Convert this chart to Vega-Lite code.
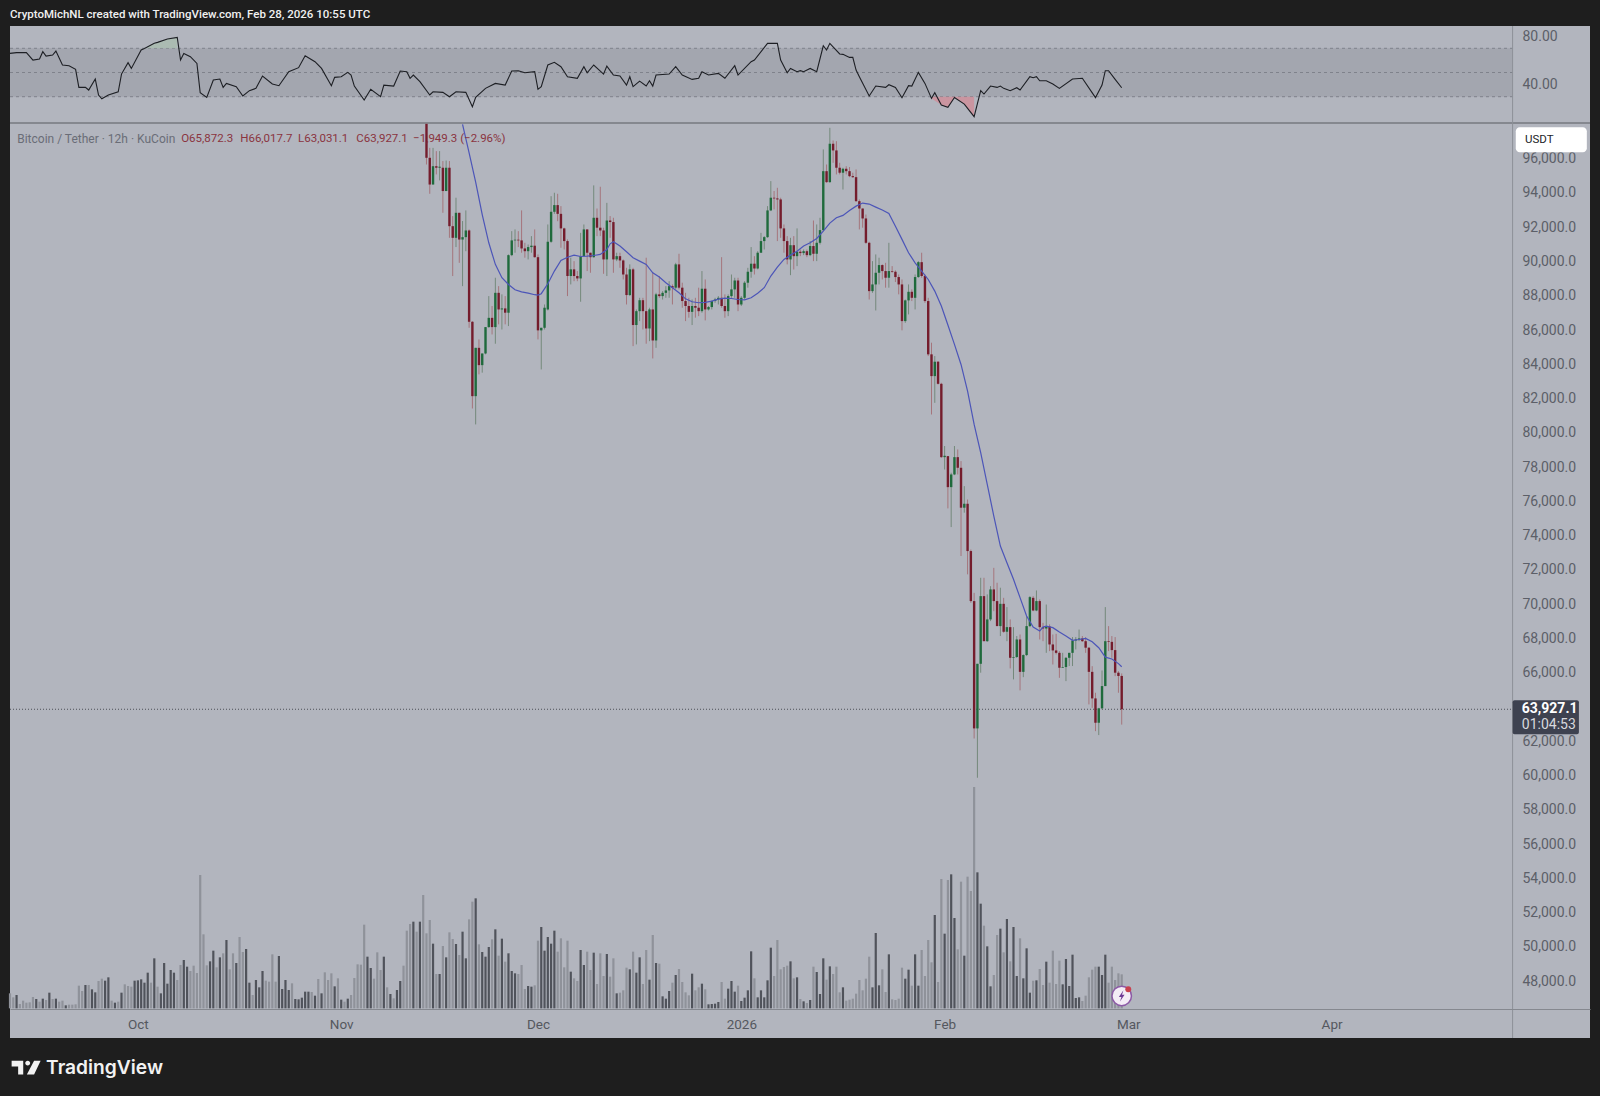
{"$schema":"https://vega.github.io/schema/vega-lite/v6.json","width":1580,"height":1012,"autosize":{"type":"none"},"padding":{"left":10,"top":26,"right":10,"bottom":58},"background":"#1e1e1e","config":{"view":{"fill":"#b2b5be","stroke":null},"text":{"font":"Roboto"},"axis":{"labelFont":"Roboto"}},
"datasets":{"bars":[
{"t":"2025-09-11T12:00Z","v":45,"up":0,"r":65.8},{"t":"2025-09-12T00:00Z","v":33,"up":0},{"t":"2025-09-12T12:00Z","v":40,"up":1,"r":66.4},{"t":"2025-09-13T00:00Z","v":13,"up":0},{"t":"2025-09-13T12:00Z","v":23,"up":0},{"t":"2025-09-14T00:00Z","v":17,"up":0,"r":66.4},{"t":"2025-09-14T12:00Z","v":18,"up":0},{"t":"2025-09-15T00:00Z","v":34,"up":0,"r":60.3},{"t":"2025-09-15T12:00Z","v":28,"up":1},{"t":"2025-09-16T00:00Z","v":20,"up":0,"r":61.1},{"t":"2025-09-16T12:00Z","v":29,"up":1,"r":67.2},{"t":"2025-09-17T00:00Z","v":25,"up":0,"r":63.6},{"t":"2025-09-17T12:00Z","v":47,"up":1},{"t":"2025-09-18T00:00Z","v":28,"up":0,"r":64.4},{"t":"2025-09-18T12:00Z","v":29,"up":1,"r":67.7},{"t":"2025-09-19T00:00Z","v":20,"up":0},{"t":"2025-09-19T12:00Z","v":23,"up":0,"r":56.2},{"t":"2025-09-20T00:00Z","v":9,"up":1},{"t":"2025-09-20T12:00Z","v":11,"up":0,"r":55.6},{"t":"2025-09-21T00:00Z","v":11,"up":0},{"t":"2025-09-21T12:00Z","v":12,"up":0,"r":52.6},{"t":"2025-09-22T00:00Z","v":68,"up":0,"r":37.7},{"t":"2025-09-22T12:00Z","v":52,"up":0},{"t":"2025-09-23T00:00Z","v":70,"up":1,"r":37.7},{"t":"2025-09-23T12:00Z","v":70,"up":0,"r":35.5},{"t":"2025-09-24T00:00Z","v":57,"up":1},{"t":"2025-09-24T12:00Z","v":48,"up":1,"r":44.6},{"t":"2025-09-25T00:00Z","v":82,"up":0,"r":31.4},{"t":"2025-09-25T12:00Z","v":89,"up":0,"r":28.3},{"t":"2025-09-26T00:00Z","v":83,"up":1},{"t":"2025-09-26T12:00Z","v":93,"up":1,"r":31.4},{"t":"2025-09-27T00:00Z","v":23,"up":0},{"t":"2025-09-27T12:00Z","v":17,"up":1},{"t":"2025-09-28T00:00Z","v":20,"up":0,"r":34.1},{"t":"2025-09-28T12:00Z","v":47,"up":1,"r":48.7},{"t":"2025-09-29T00:00Z","v":72,"up":0},{"t":"2025-09-29T12:00Z","v":67,"up":0,"r":58.1},{"t":"2025-09-30T00:00Z","v":65,"up":0,"r":53.4},{"t":"2025-09-30T12:00Z","v":83,"up":1},
{"t":"2025-10-01T00:00Z","v":84,"up":1},{"t":"2025-10-01T12:00Z","v":87,"up":1,"r":68.6},{"t":"2025-10-02T00:00Z","v":77,"up":1,"r":69.9},{"t":"2025-10-02T12:00Z","v":107,"up":1},{"t":"2025-10-03T00:00Z","v":77,"up":0},{"t":"2025-10-03T12:00Z","v":150,"up":1,"r":74.1},{"t":"2025-10-04T00:00Z","v":65,"up":0,"r":74.9},{"t":"2025-10-04T12:00Z","v":45,"up":1},{"t":"2025-10-05T00:00Z","v":136,"up":1},{"t":"2025-10-05T12:00Z","v":74,"up":1,"r":77.7},{"t":"2025-10-06T00:00Z","v":115,"up":1},{"t":"2025-10-06T12:00Z","v":107,"up":1},{"t":"2025-10-07T00:00Z","v":85,"up":0,"r":79.0},{"t":"2025-10-07T12:00Z","v":130,"up":0,"r":60.3},{"t":"2025-10-08T00:00Z","v":145,"up":1,"r":65.8},{"t":"2025-10-08T12:00Z","v":125,"up":1},{"t":"2025-10-09T00:00Z","v":112,"up":0,"r":63.1},{"t":"2025-10-09T12:00Z","v":128,"up":0},{"t":"2025-10-10T00:00Z","v":106,"up":0,"r":57.5},{"t":"2025-10-10T12:00Z","v":400,"up":0,"r":33.3},{"t":"2025-10-11T00:00Z","v":222,"up":0},{"t":"2025-10-11T12:00Z","v":129,"up":0,"r":29.4},{"t":"2025-10-12T00:00Z","v":141,"up":1},{"t":"2025-10-12T12:00Z","v":173,"up":1,"r":43.8},{"t":"2025-10-13T00:00Z","v":123,"up":0},{"t":"2025-10-13T12:00Z","v":153,"up":1,"r":44.6},{"t":"2025-10-14T00:00Z","v":165,"up":0,"r":37.7},{"t":"2025-10-14T12:00Z","v":205,"up":1,"r":41.0},{"t":"2025-10-15T00:00Z","v":117,"up":0},{"t":"2025-10-15T12:00Z","v":165,"up":0},{"t":"2025-10-16T00:00Z","v":136,"up":1,"r":38.3},{"t":"2025-10-16T12:00Z","v":214,"up":0},{"t":"2025-10-17T00:00Z","v":169,"up":0,"r":30.6},{"t":"2025-10-17T12:00Z","v":178,"up":1},{"t":"2025-10-18T00:00Z","v":77,"up":1,"r":35.0},{"t":"2025-10-18T12:00Z","v":40,"up":0},{"t":"2025-10-19T00:00Z","v":85,"up":1,"r":36.9},{"t":"2025-10-19T12:00Z","v":63,"up":1},{"t":"2025-10-20T00:00Z","v":112,"up":1,"r":47.1},{"t":"2025-10-20T12:00Z","v":83,"up":0},{"t":"2025-10-21T00:00Z","v":80,"up":0},{"t":"2025-10-21T12:00Z","v":162,"up":0,"r":40.5},{"t":"2025-10-22T00:00Z","v":80,"up":0},{"t":"2025-10-22T12:00Z","v":157,"up":1,"r":39.1},{"t":"2025-10-23T00:00Z","v":58,"up":1},{"t":"2025-10-23T12:00Z","v":85,"up":1},{"t":"2025-10-24T00:00Z","v":55,"up":1,"r":50.7},{"t":"2025-10-24T12:00Z","v":75,"up":0},{"t":"2025-10-25T00:00Z","v":28,"up":1},{"t":"2025-10-25T12:00Z","v":27,"up":1,"r":54.0},{"t":"2025-10-26T00:00Z","v":32,"up":1},{"t":"2025-10-26T12:00Z","v":50,"up":1,"r":63.9},{"t":"2025-10-27T00:00Z","v":50,"up":1},{"t":"2025-10-27T12:00Z","v":49,"up":0},{"t":"2025-10-28T00:00Z","v":38,"up":1,"r":58.9},{"t":"2025-10-28T12:00Z","v":88,"up":0},{"t":"2025-10-29T00:00Z","v":45,"up":1,"r":53.4},{"t":"2025-10-29T12:00Z","v":108,"up":0},{"t":"2025-10-30T00:00Z","v":85,"up":0,"r":43.8},{"t":"2025-10-30T12:00Z","v":105,"up":0,"r":39.1},{"t":"2025-10-31T00:00Z","v":66,"up":1,"r":46.0},{"t":"2025-10-31T12:00Z","v":90,"up":0},
{"t":"2025-11-01T00:00Z","v":26,"up":1,"r":46.5},{"t":"2025-11-01T12:00Z","v":20,"up":0},{"t":"2025-11-02T00:00Z","v":29,"up":1,"r":50.1},{"t":"2025-11-02T12:00Z","v":40,"up":0,"r":47.9},{"t":"2025-11-03T00:00Z","v":91,"up":0,"r":38.8},{"t":"2025-11-03T12:00Z","v":132,"up":0},{"t":"2025-11-04T00:00Z","v":131,"up":0},{"t":"2025-11-04T12:00Z","v":251,"up":0,"r":27.2},{"t":"2025-11-05T00:00Z","v":155,"up":1},{"t":"2025-11-05T12:00Z","v":121,"up":1,"r":36.1},{"t":"2025-11-06T00:00Z","v":89,"up":0},{"t":"2025-11-06T12:00Z","v":168,"up":0},{"t":"2025-11-07T00:00Z","v":115,"up":0,"r":30.0},{"t":"2025-11-07T12:00Z","v":155,"up":1,"r":39.6},{"t":"2025-11-08T00:00Z","v":63,"up":0},{"t":"2025-11-08T12:00Z","v":43,"up":1},{"t":"2025-11-09T00:00Z","v":30,"up":0,"r":38.8},{"t":"2025-11-09T12:00Z","v":55,"up":1},{"t":"2025-11-10T00:00Z","v":82,"up":1,"r":51.2},{"t":"2025-11-10T12:00Z","v":128,"up":0},{"t":"2025-11-11T00:00Z","v":233,"up":0,"r":50.7},{"t":"2025-11-11T12:00Z","v":253,"up":0,"r":45.2},{"t":"2025-11-12T00:00Z","v":260,"up":1,"r":47.9},{"t":"2025-11-12T12:00Z","v":230,"up":0},{"t":"2025-11-13T00:00Z","v":260,"up":1,"r":42.4},{"t":"2025-11-13T12:00Z","v":340,"up":0},
{"t":"2025-11-14T00:00Z","v":225,"up":0,"o":98090,"h":98100,"l":95720,"c":96110},{"t":"2025-11-14T12:00Z","v":265,"up":0,"o":96110,"h":96690,"l":94010,"c":94550,"r":31.4},{"t":"2025-11-15T00:00Z","v":194,"up":1,"o":94550,"h":96690,"l":94550,"c":95620,"r":34.1},{"t":"2025-11-15T12:00Z","v":103,"up":0,"o":95620,"h":96500,"l":95140,"c":95530},{"t":"2025-11-16T00:00Z","v":103,"up":1,"o":95530,"h":96500,"l":94790,"c":95590},{"t":"2025-11-16T12:00Z","v":187,"up":0,"o":95530,"h":95920,"l":92900,"c":94170,"r":33.6},{"t":"2025-11-17T00:00Z","v":153,"up":1,"o":94170,"h":95950,"l":94170,"c":95530},{"t":"2025-11-17T12:00Z","v":228,"up":0,"o":95530,"h":95920,"l":91440,"c":92120,"r":30.0},{"t":"2025-11-18T00:00Z","v":208,"up":0,"o":92120,"h":92710,"l":89210,"c":91440},{"t":"2025-11-18T12:00Z","v":193,"up":1,"o":91440,"h":93780,"l":90900,"c":92900,"r":34.1},{"t":"2025-11-19T00:00Z","v":160,"up":0,"o":92900,"h":92900,"l":89980,"c":91340},{"t":"2025-11-19T12:00Z","v":230,"up":1,"o":91340,"h":92420,"l":88620,"c":91480,"m":98055},{"t":"2025-11-20T00:00Z","v":150,"up":1,"o":91480,"h":93040,"l":90660,"c":91870,"r":33.6},{"t":"2025-11-20T12:00Z","v":267,"up":0,"o":91870,"h":91930,"l":86190,"c":86540,"m":96400},{"t":"2025-11-21T00:00Z","v":320,"up":0,"o":86540,"h":86580,"l":81480,"c":82200,"r":21.7},{"t":"2025-11-21T12:00Z","v":330,"up":1,"o":82200,"h":85020,"l":80550,"c":85020,"r":29.4,"m":94690},{"t":"2025-11-22T00:00Z","v":192,"up":0,"o":85020,"h":85510,"l":83470,"c":84010},{"t":"2025-11-22T12:00Z","v":169,"up":1,"o":84010,"h":84690,"l":83570,"c":84690,"m":92800},{"t":"2025-11-23T00:00Z","v":155,"up":1,"o":84690,"h":86230,"l":84640,"c":86230,"r":36.9},{"t":"2025-11-23T12:00Z","v":184,"up":1,"o":86230,"h":88040,"l":86190,"c":86770,"m":91150},{"t":"2025-11-24T00:00Z","v":207,"up":0,"o":86770,"h":87460,"l":85800,"c":86230},{"t":"2025-11-24T12:00Z","v":237,"up":1,"o":86230,"h":89110,"l":85260,"c":88230,"r":41.0,"m":89890},{"t":"2025-11-25T00:00Z","v":158,"up":0,"o":88230,"h":88620,"l":86390,"c":87260},{"t":"2025-11-25T12:00Z","v":209,"up":1,"o":87260,"h":88140,"l":86090,"c":87320,"m":89110},{"t":"2025-11-26T00:00Z","v":140,"up":0,"o":87320,"h":88040,"l":86390,"c":87070,"r":39.6},{"t":"2025-11-26T12:00Z","v":165,"up":1,"o":87070,"h":90470,"l":86290,"c":90430,"m":88720},{"t":"2025-11-27T00:00Z","v":112,"up":1,"o":90430,"h":91830,"l":90370,"c":91290,"r":51.2},{"t":"2025-11-27T12:00Z","v":105,"up":1,"o":91290,"h":91930,"l":90570,"c":91330,"m":88410},{"t":"2025-11-28T00:00Z","v":103,"up":0,"o":91330,"h":91830,"l":90900,"c":91290,"r":51.5},{"t":"2025-11-28T12:00Z","v":130,"up":0,"o":91290,"h":93040,"l":90570,"c":90820,"m":88290},{"t":"2025-11-29T00:00Z","v":58,"up":0,"o":90820,"h":91150,"l":90280,"c":90660,"r":49.8},{"t":"2025-11-29T12:00Z","v":67,"up":1,"o":90660,"h":91050,"l":90180,"c":90900,"m":88210},{"t":"2025-11-30T00:00Z","v":65,"up":1,"o":90900,"h":91540,"l":90570,"c":90980},{"t":"2025-11-30T12:00Z","v":69,"up":0,"o":90980,"h":91930,"l":90280,"c":90310,"r":50.7,"m":88120},
{"t":"2025-12-01T00:00Z","v":203,"up":0,"o":90310,"h":90470,"l":85510,"c":86040,"r":36.1,"m":88100},{"t":"2025-12-01T12:00Z","v":244,"up":1,"o":86040,"h":86190,"l":83760,"c":86190,"r":38.3,"m":88180},{"t":"2025-12-02T00:00Z","v":173,"up":1,"o":86190,"h":87550,"l":86090,"c":87360},{"t":"2025-12-02T12:00Z","v":214,"up":1,"o":87260,"h":92220,"l":87200,"c":91210,"r":56.2,"m":88760},{"t":"2025-12-03T00:00Z","v":194,"up":1,"o":91210,"h":93870,"l":91150,"c":92960},{"t":"2025-12-03T12:00Z","v":233,"up":1,"o":92960,"h":94070,"l":92840,"c":93350,"r":58.4,"m":89500},{"t":"2025-12-04T00:00Z","v":170,"up":0,"o":93350,"h":94010,"l":92410,"c":92840},{"t":"2025-12-04T12:00Z","v":210,"up":0,"o":92840,"h":93290,"l":90860,"c":91990,"r":54.8,"m":90120},{"t":"2025-12-05T00:00Z","v":123,"up":0,"o":91990,"h":92030,"l":90760,"c":91250},{"t":"2025-12-05T12:00Z","v":203,"up":0,"o":91250,"h":91350,"l":88040,"c":89210,"r":46.5,"m":90310},{"t":"2025-12-06T00:00Z","v":110,"up":1,"o":89210,"h":90280,"l":88720,"c":89600},{"t":"2025-12-06T12:00Z","v":90,"up":0,"o":89600,"h":90080,"l":88910,"c":89210,"m":90430},{"t":"2025-12-07T00:00Z","v":82,"up":0,"o":89210,"h":89500,"l":88910,"c":89070,"r":45.2},{"t":"2025-12-07T12:00Z","v":175,"up":1,"o":89070,"h":91730,"l":87710,"c":90370,"m":90350},{"t":"2025-12-08T00:00Z","v":130,"up":1,"o":90370,"h":92220,"l":90370,"c":91930,"r":54.8},{"t":"2025-12-08T12:00Z","v":170,"up":0,"o":91930,"h":91930,"l":89500,"c":90570,"r":49.8,"m":90370},{"t":"2025-12-09T00:00Z","v":115,"up":0,"o":90570,"h":90570,"l":89400,"c":90310},{"t":"2025-12-09T12:00Z","v":167,"up":1,"o":90310,"h":94500,"l":90280,"c":92610,"r":56.2,"m":90410},{"t":"2025-12-10T00:00Z","v":73,"up":0,"o":92610,"h":93150,"l":91540,"c":92030},{"t":"2025-12-10T12:00Z","v":165,"up":0,"o":92030,"h":94420,"l":91540,"c":91870,"m":90470},{"t":"2025-12-11T00:00Z","v":97,"up":0,"o":91870,"h":92030,"l":89340,"c":90180,"r":48.7},{"t":"2025-12-11T12:00Z","v":163,"up":1,"o":90180,"h":93480,"l":89210,"c":92450,"r":55.3,"m":90760},{"t":"2025-12-12T00:00Z","v":95,"up":0,"o":92450,"h":92710,"l":91440,"c":92360,"m":91090},{"t":"2025-12-12T12:00Z","v":150,"up":0,"o":92360,"h":92610,"l":89400,"c":90180,"r":47.9,"m":91210},{"t":"2025-12-13T00:00Z","v":45,"up":1,"o":90180,"h":90570,"l":90080,"c":90370},{"t":"2025-12-13T12:00Z","v":47,"up":0,"o":90370,"h":90570,"l":89690,"c":90120,"r":47.1,"m":90960},{"t":"2025-12-14T00:00Z","v":54,"up":0,"o":90120,"h":90180,"l":89010,"c":89300},{"t":"2025-12-14T12:00Z","v":122,"up":0,"o":89300,"h":89690,"l":87550,"c":88100,"r":39.6,"m":90630},{"t":"2025-12-15T00:00Z","v":117,"up":1,"o":88100,"h":89890,"l":88040,"c":89600,"r":46.5},{"t":"2025-12-15T12:00Z","v":170,"up":0,"o":89600,"h":89690,"l":85120,"c":86350,"r":38.3,"m":90280},{"t":"2025-12-16T00:00Z","v":107,"up":1,"o":86350,"h":87260,"l":85220,"c":87160},{"t":"2025-12-16T12:00Z","v":153,"up":1,"o":87160,"h":87940,"l":86580,"c":87800,"r":42.9,"m":90080},{"t":"2025-12-17T00:00Z","v":73,"up":0,"o":87800,"h":87940,"l":86090,"c":87160},{"t":"2025-12-17T12:00Z","v":175,"up":0,"o":87160,"h":90280,"l":85260,"c":86150,"r":38.8,"m":89890},{"t":"2025-12-18T00:00Z","v":86,"up":1,"o":86150,"h":87360,"l":85410,"c":87260,"r":43.2},{"t":"2025-12-18T12:00Z","v":220,"up":0,"o":87260,"h":89400,"l":84400,"c":85450,"r":38.8,"m":89400},{"t":"2025-12-19T00:00Z","v":136,"up":1,"o":85450,"h":88230,"l":85020,"c":88140,"r":47.9},{"t":"2025-12-19T12:00Z","v":134,"up":0,"o":88140,"h":89210,"l":87940,"c":88040,"m":89150},{"t":"2025-12-20T00:00Z","v":36,"up":1,"o":88040,"h":88330,"l":87840,"c":88230},{"t":"2025-12-20T12:00Z","v":29,"up":1,"o":88230,"h":88620,"l":87940,"c":88370,"m":88820},{"t":"2025-12-21T00:00Z","v":52,"up":1,"o":88370,"h":88910,"l":87940,"c":88620,"r":48.7},{"t":"2025-12-21T12:00Z","v":77,"up":0,"o":88620,"h":88720,"l":87550,"c":88530,"m":88530},{"t":"2025-12-22T00:00Z","v":100,"up":1,"o":88530,"h":89980,"l":88430,"c":89890,"r":54.8},{"t":"2025-12-22T12:00Z","v":118,"up":0,"o":89890,"h":90510,"l":88430,"c":88530,"m":88230},{"t":"2025-12-23T00:00Z","v":79,"up":0,"o":88530,"h":88820,"l":87360,"c":87750,"r":47.9},{"t":"2025-12-23T12:00Z","v":48,"up":0,"o":87750,"h":88230,"l":86580,"c":87460,"m":87880},{"t":"2025-12-24T00:00Z","v":39,"up":0,"o":87460,"h":87940,"l":86780,"c":87120},{"t":"2025-12-24T12:00Z","v":104,"up":1,"o":87120,"h":87840,"l":86350,"c":87460,"r":44.3,"m":87710},{"t":"2025-12-25T00:00Z","v":54,"up":0,"o":87460,"h":87940,"l":86780,"c":87360},{"t":"2025-12-25T12:00Z","v":63,"up":0,"o":87360,"h":88530,"l":86870,"c":87160,"r":45.2,"m":87650},{"t":"2025-12-26T00:00Z","v":74,"up":1,"o":87160,"h":89500,"l":87070,"c":88470,"r":50.7},{"t":"2025-12-26T12:00Z","v":57,"up":0,"o":88470,"h":89010,"l":86620,"c":87260,"m":87670},{"t":"2025-12-27T00:00Z","v":12,"up":1,"o":87260,"h":87460,"l":87200,"c":87400,"r":47.9},{"t":"2025-12-27T12:00Z","v":13,"up":1,"o":87400,"h":87790,"l":87260,"c":87750,"m":87750},{"t":"2025-12-28T00:00Z","v":14,"up":1,"o":87750,"h":87940,"l":87650,"c":87840},{"t":"2025-12-28T12:00Z","v":19,"up":1,"o":87840,"h":88040,"l":87550,"c":87940,"r":49.3,"m":87860},{"t":"2025-12-29T00:00Z","v":79,"up":0,"o":87940,"h":90310,"l":87360,"c":87460},{"t":"2025-12-29T12:00Z","v":29,"up":0,"o":87460,"h":88140,"l":86780,"c":87160,"r":45.2,"m":87920},{"t":"2025-12-30T00:00Z","v":59,"up":1,"o":87160,"h":88140,"l":86870,"c":88040},{"t":"2025-12-30T12:00Z","v":82,"up":1,"o":88040,"h":89300,"l":87940,"c":88430,"m":87900},{"t":"2025-12-31T00:00Z","v":50,"up":1,"o":88430,"h":89110,"l":87940,"c":88950,"r":55.6},{"t":"2025-12-31T12:00Z","v":68,"up":0,"o":88950,"h":89110,"l":87160,"c":87550,"r":47.9,"m":87840},
{"t":"2026-01-01T00:00Z","v":22,"up":1,"o":87550,"h":88040,"l":87460,"c":87940},{"t":"2026-01-01T12:00Z","v":32,"up":1,"o":87940,"h":88910,"l":87840,"c":88820,"m":87820},{"t":"2026-01-02T00:00Z","v":54,"up":1,"o":88820,"h":89690,"l":88530,"c":89460},{"t":"2026-01-02T12:00Z","v":171,"up":1,"o":89460,"h":90900,"l":89110,"c":89930,"r":58.9,"m":87940},{"t":"2026-01-03T00:00Z","v":90,"up":0,"o":89930,"h":90370,"l":89300,"c":89650,"r":60.3},{"t":"2026-01-03T12:00Z","v":33,"up":1,"o":89650,"h":90660,"l":89600,"c":90570,"m":88210},{"t":"2026-01-04T00:00Z","v":54,"up":1,"o":90570,"h":91730,"l":90570,"c":91250},{"t":"2026-01-04T12:00Z","v":33,"up":1,"o":91250,"h":91540,"l":90760,"c":91480,"m":88530},{"t":"2026-01-05T00:00Z","v":84,"up":1,"o":91480,"h":93290,"l":91440,"c":93040,"r":74.1},{"t":"2026-01-05T12:00Z","v":182,"up":1,"o":93040,"h":94750,"l":93000,"c":93780,"m":89210},{"t":"2026-01-06T00:00Z","v":97,"up":0,"o":93780,"h":94170,"l":93100,"c":93740},{"t":"2026-01-06T12:00Z","v":205,"up":0,"o":93740,"h":94360,"l":91250,"c":93680,"r":74.1,"m":89730},{"t":"2026-01-07T00:00Z","v":117,"up":0,"o":93680,"h":93780,"l":91440,"c":91990,"r":60.3},{"t":"2026-01-07T12:00Z","v":124,"up":0,"o":91990,"h":92220,"l":90570,"c":91250,"m":90180},{"t":"2026-01-08T00:00Z","v":128,"up":0,"o":91250,"h":91540,"l":89890,"c":90180,"r":49.8},{"t":"2026-01-08T12:00Z","v":141,"up":1,"o":90180,"h":91440,"l":89260,"c":91010,"r":53.4,"m":90430},{"t":"2026-01-09T00:00Z","v":90,"up":0,"o":91010,"h":91540,"l":89590,"c":90370},{"t":"2026-01-09T12:00Z","v":93,"up":1,"o":90370,"h":91990,"l":89790,"c":90630,"r":50.7,"m":90660},{"t":"2026-01-10T00:00Z","v":28,"up":0,"o":90630,"h":90760,"l":90370,"c":90550,"r":51.5},{"t":"2026-01-10T12:00Z","v":21,"up":1,"o":90550,"h":90760,"l":90430,"c":90660,"r":50.7,"m":90960},{"t":"2026-01-11T00:00Z","v":16,"up":0,"o":90660,"h":90760,"l":90310,"c":90430},{"t":"2026-01-11T12:00Z","v":25,"up":1,"o":90430,"h":91250,"l":90370,"c":90960,"r":53.4,"m":91150},{"t":"2026-01-12T00:00Z","v":125,"up":0,"o":90960,"h":92450,"l":90080,"c":90510},{"t":"2026-01-12T12:00Z","v":109,"up":1,"o":90510,"h":92220,"l":90080,"c":91150,"r":50.7,"m":91400},{"t":"2026-01-13T00:00Z","v":43,"up":1,"o":91150,"h":92610,"l":91050,"c":91890},{"t":"2026-01-13T12:00Z","v":150,"up":1,"o":91890,"h":96600,"l":91830,"c":95330,"r":72.1,"m":91830},{"t":"2026-01-14T00:00Z","v":86,"up":0,"o":95330,"h":95720,"l":94650,"c":94690,"r":68.6},{"t":"2026-01-14T12:00Z","v":126,"up":1,"o":94690,"h":97860,"l":94650,"c":96930,"r":74.1,"m":92300},{"t":"2026-01-15T00:00Z","v":103,"up":0,"o":96930,"h":97120,"l":95820,"c":96540},{"t":"2026-01-15T12:00Z","v":125,"up":0,"o":96540,"h":97080,"l":95140,"c":95530,"m":92610},{"t":"2026-01-16T00:00Z","v":48,"up":0,"o":95530,"h":95820,"l":95140,"c":95240,"r":65.3},{"t":"2026-01-16T12:00Z","v":63,"up":1,"o":95240,"h":95530,"l":94260,"c":95470,"r":65.0,"m":92750},{"t":"2026-01-17T00:00Z","v":23,"up":0,"o":95470,"h":95620,"l":95140,"c":95330},{"t":"2026-01-17T12:00Z","v":26,"up":0,"o":95330,"h":95570,"l":94980,"c":95040,"r":62.5,"m":93040},{"t":"2026-01-18T00:00Z","v":29,"up":0,"o":95040,"h":95240,"l":94940,"c":94980,"r":62.5},{"t":"2026-01-18T12:00Z","v":44,"up":0,"o":94980,"h":95430,"l":93540,"c":93580,"r":52.0,"m":93290},{"t":"2026-01-19T00:00Z","v":85,"up":0,"o":93580,"h":93680,"l":91930,"c":93150,"r":46.5},{"t":"2026-01-19T12:00Z","v":54,"up":0,"o":93150,"h":93150,"l":92030,"c":92570,"m":93470},{"t":"2026-01-20T00:00Z","v":89,"up":0,"o":92570,"h":92800,"l":91090,"c":91150},{"t":"2026-01-20T12:00Z","v":155,"up":0,"o":91150,"h":91210,"l":87840,"c":88330,"r":30.6,"m":93410},{"t":"2026-01-21T00:00Z","v":63,"up":1,"o":88330,"h":90080,"l":88230,"c":88720},{"t":"2026-01-21T12:00Z","v":226,"up":1,"o":88720,"h":90470,"l":87200,"c":89400,"r":38.8,"m":93230},{"t":"2026-01-22T00:00Z","v":69,"up":1,"o":89400,"h":90280,"l":88720,"c":89850},{"t":"2026-01-22T12:00Z","v":117,"up":0,"o":89850,"h":89890,"l":89010,"c":89500,"m":93060},{"t":"2026-01-23T00:00Z","v":49,"up":0,"o":89500,"h":89980,"l":88530,"c":89110,"r":37.7},{"t":"2026-01-23T12:00Z","v":162,"up":1,"o":89110,"h":91150,"l":88530,"c":89500,"r":39.9,"m":92860},{"t":"2026-01-24T00:00Z","v":27,"up":0,"o":89500,"h":89790,"l":89400,"c":89460},{"t":"2026-01-24T12:00Z","v":25,"up":0,"o":89460,"h":89540,"l":88860,"c":89150,"r":37.7,"m":92120},{"t":"2026-01-25T00:00Z","v":29,"up":0,"o":89150,"h":89300,"l":88140,"c":88720},{"t":"2026-01-25T12:00Z","v":122,"up":0,"o":88720,"h":89010,"l":86040,"c":86580,"r":29.2,"m":91350},{"t":"2026-01-26T00:00Z","v":89,"up":1,"o":86580,"h":87840,"l":86480,"c":87790},{"t":"2026-01-26T12:00Z","v":116,"up":1,"o":87790,"h":88720,"l":86970,"c":88290,"r":39.1,"m":90570},{"t":"2026-01-27T00:00Z","v":68,"up":0,"o":88290,"h":88430,"l":87750,"c":87940,"r":38.8},{"t":"2026-01-27T12:00Z","v":162,"up":1,"o":87940,"h":89300,"l":87260,"c":89150,"m":89980},{"t":"2026-01-28T00:00Z","v":68,"up":1,"o":89150,"h":90080,"l":89110,"c":90020,"r":50.1},{"t":"2026-01-28T12:00Z","v":175,"up":0,"o":90020,"h":90570,"l":89110,"c":89210,"m":89500},{"t":"2026-01-29T00:00Z","v":97,"up":0,"o":89210,"h":89300,"l":87650,"c":87750,"r":41.0},{"t":"2026-01-29T12:00Z","v":205,"up":0,"o":87750,"h":87940,"l":84540,"c":84640,"m":89010},{"t":"2026-01-30T00:00Z","v":138,"up":0,"o":84640,"h":85320,"l":81130,"c":83370,"r":28.6},{"t":"2026-01-30T12:00Z","v":280,"up":1,"o":83370,"h":84540,"l":81810,"c":84210,"r":33.3,"m":88330},{"t":"2026-01-31T00:00Z","v":79,"up":0,"o":84210,"h":84250,"l":82880,"c":82920},{"t":"2026-01-31T12:00Z","v":388,"up":0,"o":82920,"h":82980,"l":78600,"c":78640,"r":23.1,"m":87460},
{"t":"2026-02-01T00:00Z","v":224,"up":1,"o":78640,"h":79290,"l":77920,"c":78720},{"t":"2026-02-01T12:00Z","v":385,"up":0,"o":78700,"h":78700,"l":75650,"c":76890,"r":21.2,"m":86350},{"t":"2026-02-02T00:00Z","v":402,"up":1,"o":76890,"h":77730,"l":74560,"c":77630},{"t":"2026-02-02T12:00Z","v":271,"up":1,"o":77630,"h":79290,"l":77590,"c":78640,"r":29.4,"m":85220},{"t":"2026-02-03T00:00Z","v":177,"up":0,"o":78640,"h":79090,"l":77630,"c":78020},{"t":"2026-02-03T12:00Z","v":380,"up":0,"o":78020,"h":78410,"l":72870,"c":75690,"m":84050},{"t":"2026-02-04T00:00Z","v":158,"up":1,"o":75690,"h":76950,"l":75400,"c":75920,"r":23.9},{"t":"2026-02-04T12:00Z","v":395,"up":0,"o":75920,"h":76170,"l":71800,"c":73160,"m":82500},{"t":"2026-02-05T00:00Z","v":352,"up":0,"o":73160,"h":73250,"l":70140,"c":70240},{"t":"2026-02-05T12:00Z","v":664,"up":0,"o":70240,"h":70720,"l":62220,"c":62810,"r":13.5,"m":80550},{"t":"2026-02-06T00:00Z","v":408,"up":1,"o":62810,"h":66580,"l":59930,"c":66580},{"t":"2026-02-06T12:00Z","v":314,"up":1,"o":66580,"h":71600,"l":66060,"c":70530,"r":35.0,"m":78900},{"t":"2026-02-07T00:00Z","v":248,"up":0,"o":70530,"h":71600,"l":67900,"c":67900,"r":32.2},{"t":"2026-02-07T12:00Z","v":186,"up":1,"o":67900,"h":70630,"l":67860,"c":69170,"m":77050},{"t":"2026-02-08T00:00Z","v":66,"up":1,"o":69170,"h":71110,"l":69070,"c":70920,"r":38.8},{"t":"2026-02-08T12:00Z","v":100,"up":0,"o":70920,"h":72180,"l":69650,"c":70240,"m":75200},{"t":"2026-02-09T00:00Z","v":220,"up":0,"o":70240,"h":71310,"l":68780,"c":68780,"r":37.7},{"t":"2026-02-09T12:00Z","v":239,"up":1,"o":68780,"h":71020,"l":68200,"c":70080,"r":38.8,"m":73450},{"t":"2026-02-10T00:00Z","v":168,"up":0,"o":70080,"h":70430,"l":68390,"c":68450,"r":36.9},{"t":"2026-02-10T12:00Z","v":268,"up":1,"o":68450,"h":69890,"l":67900,"c":68720,"m":72480},{"t":"2026-02-11T00:00Z","v":141,"up":0,"o":68720,"h":69170,"l":66310,"c":66930,"r":35.0},{"t":"2026-02-11T12:00Z","v":244,"up":1,"o":66930,"h":68720,"l":65670,"c":66970,"m":71510},{"t":"2026-02-12T00:00Z","v":97,"up":1,"o":66970,"h":68200,"l":66930,"c":68000,"r":37.4},{"t":"2026-02-12T12:00Z","v":210,"up":0,"o":68000,"h":68290,"l":65030,"c":66110,"r":35.5,"m":70440},{"t":"2026-02-13T00:00Z","v":90,"up":1,"o":66110,"h":67130,"l":65800,"c":67090},{"t":"2026-02-13T12:00Z","v":180,"up":1,"o":67090,"h":69360,"l":67030,"c":68780,"m":69370},{"t":"2026-02-14T00:00Z","v":47,"up":1,"o":68780,"h":70530,"l":68720,"c":70470,"r":46.5},{"t":"2026-02-14T12:00Z","v":83,"up":0,"o":70430,"h":70530,"l":69650,"c":69690,"r":45.7,"m":68720},{"t":"2026-02-15T00:00Z","v":84,"up":1,"o":69690,"h":70860,"l":69650,"c":70240,"r":46.5},{"t":"2026-02-15T12:00Z","v":118,"up":0,"o":70240,"h":70340,"l":68000,"c":68720,"r":43.2,"m":68490},{"t":"2026-02-16T00:00Z","v":70,"up":0,"o":68720,"h":68970,"l":67900,"c":68640,"m":68720},{"t":"2026-02-16T12:00Z","v":140,"up":1,"o":68640,"h":70040,"l":67220,"c":68760,"r":43.2,"m":68780},{"t":"2026-02-17T00:00Z","v":77,"up":0,"o":68760,"h":68880,"l":67320,"c":67710},{"t":"2026-02-17T12:00Z","v":173,"up":0,"o":67710,"h":68290,"l":66540,"c":67360,"r":40.5,"m":68690},{"t":"2026-02-18T00:00Z","v":73,"up":0,"o":67360,"h":68330,"l":67130,"c":67220},{"t":"2026-02-18T12:00Z","v":143,"up":0,"o":67220,"h":67320,"l":65760,"c":66350,"r":36.9,"m":68430},{"t":"2026-02-19T00:00Z","v":72,"up":1,"o":66350,"h":67220,"l":66350,"c":66390},{"t":"2026-02-19T12:00Z","v":148,"up":1,"o":66390,"h":66970,"l":65570,"c":66930,"m":68200},{"t":"2026-02-20T00:00Z","v":67,"up":1,"o":66930,"h":67220,"l":66450,"c":67220},{"t":"2026-02-20T12:00Z","v":161,"up":1,"o":67220,"h":68140,"l":66450,"c":67940,"r":44.6,"m":67950},{"t":"2026-02-21T00:00Z","v":31,"up":1,"o":67940,"h":68140,"l":67420,"c":68000},{"t":"2026-02-21T12:00Z","v":33,"up":1,"o":68000,"h":68580,"l":67900,"c":68060,"m":68000},{"t":"2026-02-22T00:00Z","v":22,"up":0,"o":68060,"h":68200,"l":67860,"c":67900,"r":45.2},{"t":"2026-02-22T12:00Z","v":38,"up":0,"o":67900,"h":68140,"l":67220,"c":67520,"m":68060},{"t":"2026-02-23T00:00Z","v":93,"up":0,"o":67520,"h":67550,"l":64210,"c":66110},{"t":"2026-02-23T12:00Z","v":116,"up":0,"o":66110,"h":66440,"l":64010,"c":64560,"m":67870},{"t":"2026-02-24T00:00Z","v":125,"up":0,"o":64560,"h":64890,"l":62650,"c":63140,"r":29.2},{"t":"2026-02-24T12:00Z","v":125,"up":1,"o":63140,"h":64010,"l":62420,"c":63980,"m":67520},{"t":"2026-02-25T00:00Z","v":100,"up":1,"o":63980,"h":66190,"l":63920,"c":65280,"r":39.6},{"t":"2026-02-25T12:00Z","v":161,"up":1,"o":65280,"h":69890,"l":65280,"c":67900,"r":51.5,"m":66970},{"t":"2026-02-26T00:00Z","v":77,"up":0,"o":67900,"h":68780,"l":67320,"c":67860,"r":51.5},{"t":"2026-02-26T12:00Z","v":125,"up":0,"o":67860,"h":68200,"l":66930,"c":67380,"m":66860},{"t":"2026-02-27T00:00Z","v":85,"up":0,"o":67380,"h":68140,"l":65860,"c":66060,"r":44.3},{"t":"2026-02-27T12:00Z","v":105,"up":0,"o":66060,"h":66150,"l":64890,"c":65870,"m":66590},{"t":"2026-02-28T00:00Z","v":102,"up":0,"o":65872,"h":66018,"l":63031,"c":63927,"r":37.4,"m":66410}
]},
"encoding":{"x":{"field":"t","type":"temporal","scale":{"type":"utc","nice":false,"padding":0,"domain":[1757592000000,1778405760000]},"axis":{"title":null,"orient":"bottom","offset":-29,"values":[1759276800000,1761955200000,1764547200000,1767225600000,1769904000000,1772323200000,1775001600000],"labelExpr":"utcmonth(datum.value)==0 ? '2026' : utcFormat(datum.value,'%b')","labelFlush":false,"labelOverlap":false,"grid":false,"ticks":false,"domainColor":"#85888f","domainWidth":1,"labelColor":"#55585f","labelFontSize":13.5,"labelPadding":8,"zindex":1}}},
"layer":[
{"resolve":{"axis":{"y":"independent"}},"layer":[
{"data":{"values":[{"t":"2025-09-11T12:00Z","t2":"2026-04-28T14:24Z","a":70,"b":30}]},"mark":{"type":"rect","color":"#a3a6af"},"encoding":{"x2":{"field":"t2"},"y":{"field":"a","type":"quantitative","scale":{"domain":[-747.9,88.43],"nice":false,"zero":false},"axis":{"title":null,"orient":"right","offset":-77,"values":[40,80],"format":".2f","grid":false,"ticks":false,"domain":false,"labelColor":"#5c5f68","labelFontSize":14,"labelPadding":9,"labelBaseline":"middle","zindex":1}},"y2":{"field":"b"}}},
{"data":{"values":[{"t":"2025-09-11T12:00Z","t2":"2026-04-28T14:24Z","a":70},{"t":"2025-09-11T12:00Z","t2":"2026-04-28T14:24Z","a":50},{"t":"2025-09-11T12:00Z","t2":"2026-04-28T14:24Z","a":30}]},"mark":{"type":"rule","color":"#7f828b","strokeDash":[3,3],"strokeWidth":1},"encoding":{"x2":{"field":"t2"},"y":{"field":"a","type":"quantitative","scale":{"domain":[-747.9,88.43],"nice":false,"zero":false},"axis":null}}},
{"data":{"name":"bars"},"transform":[{"filter":"datum.r!=null && datum.r<30.5 && toDate(datum.t)>1769644800000 && toDate(datum.t)<1770508800000"}],"mark":{"type":"area","color":"#cf8d98","opacity":0.8},"encoding":{"y":{"field":"r","type":"quantitative","scale":{"domain":[-747.9,88.43],"nice":false,"zero":false},"axis":null},"y2":{"datum":30}}},
{"data":{"name":"bars"},"transform":[{"filter":"datum.r!=null && datum.r>69 && toDate(datum.t)<1761955200000"}],"mark":{"type":"area","color":"#a9bdaf","opacity":0.8},"encoding":{"y":{"field":"r","type":"quantitative","scale":{"domain":[-747.9,88.43],"nice":false,"zero":false},"axis":null},"y2":{"datum":70}}},
{"data":{"name":"bars"},"transform":[{"filter":"datum.r!=null"}],"mark":{"type":"line","color":"#1d1f24","strokeWidth":1.1},"encoding":{"y":{"field":"r","type":"quantitative","scale":{"domain":[-747.9,88.43],"nice":false,"zero":false},"axis":null}}}
]},
{"layer":[
{"data":{"name":"bars"},"transform":[{"filter":"datum.up==0"}],"mark":{"type":"bar","color":"#8f929a","size":2.2},"encoding":{"y":{"field":"v","type":"quantitative","stack":null,"scale":{"domain":[-89,2947],"nice":false},"axis":null}}},
{"data":{"name":"bars"},"transform":[{"filter":"datum.up==1"}],"mark":{"type":"bar","color":"#50535b","size":2.2},"encoding":{"y":{"field":"v","type":"quantitative","stack":null,"scale":{"domain":[-89,2947],"nice":false},"axis":null}}}
]},
{"resolve":{"axis":{"y":"independent"}},"layer":[
{"data":{"values":[{"t":"2025-09-11T12:00Z","t2":"2026-04-28T14:24Z","p":63927.1}]},"mark":{"type":"rule","color":"#4c4f57","strokeDash":[1,2],"strokeWidth":1},"encoding":{"x2":{"field":"t2"},"y":{"field":"p","type":"quantitative","scale":{"domain":[44742,103802],"nice":false,"zero":false},"axis":{"title":null,"orient":"right","offset":-77,"values":[48000,50000,52000,54000,56000,58000,60000,62000,64000,66000,68000,70000,72000,74000,76000,78000,80000,82000,84000,86000,88000,90000,92000,94000,96000],"labelExpr":"datum.value==64000 ? '' : format(datum.value,',.1f')","grid":false,"ticks":false,"domain":false,"labelColor":"#5c5f68","labelFontSize":14,"labelPadding":9,"labelOffset":-1,"zindex":0}}}},
{"data":{"values":[{"t":"2025-09-11T12:00Z","t2":"2026-05-10T09:36Z","p":98141}]},"mark":{"type":"rule","color":"#85888f","strokeWidth":2},"encoding":{"x2":{"field":"t2"},"y":{"field":"p","type":"quantitative","scale":{"domain":[44742,103802],"nice":false,"zero":false},"axis":null}}},
{"data":{"values":[{"t":"2026-04-28T14:24Z","p":103802,"p2":44742}]},"mark":{"type":"rule","color":"#8d9098","strokeWidth":1},"encoding":{"y":{"field":"p","type":"quantitative","scale":{"domain":[44742,103802],"nice":false,"zero":false},"axis":null},"y2":{"field":"p2"}}},
{"data":{"name":"bars"},"transform":[{"filter":"datum.o!=null && datum.up==0"}],"mark":{"type":"rule","color":"#a5757c","strokeWidth":1},"encoding":{"y":{"field":"l","type":"quantitative","scale":{"domain":[44742,103802],"nice":false,"zero":false},"axis":null},"y2":{"field":"h"}}},
{"data":{"name":"bars"},"transform":[{"filter":"datum.o!=null && datum.up==1"}],"mark":{"type":"rule","color":"#74897b","strokeWidth":1},"encoding":{"y":{"field":"l","type":"quantitative","scale":{"domain":[44742,103802],"nice":false,"zero":false},"axis":null},"y2":{"field":"h"}}},
{"data":{"name":"bars"},"transform":[{"filter":"datum.o!=null && datum.up==0"}],"mark":{"type":"bar","color":"#741c2c","size":2.4},"encoding":{"y":{"field":"o","type":"quantitative","scale":{"domain":[44742,103802],"nice":false,"zero":false},"axis":null},"y2":{"field":"c"}}},
{"data":{"name":"bars"},"transform":[{"filter":"datum.o!=null && datum.up==1"}],"mark":{"type":"bar","color":"#1f6a3c","size":2.4},"encoding":{"y":{"field":"o","type":"quantitative","scale":{"domain":[44742,103802],"nice":false,"zero":false},"axis":null},"y2":{"field":"c"}}},
{"data":{"name":"bars"},"transform":[{"filter":"datum.m!=null"}],"mark":{"type":"line","color":"#4c55b8","strokeWidth":1.2},"encoding":{"y":{"field":"m","type":"quantitative","scale":{"domain":[44742,103802],"nice":false,"zero":false},"axis":null}}},
{"data":{"values":[{"t":"2026-04-29T02:00Z","t2":"2026-05-09T22:00Z","p":97898,"p2":96438}]},"mark":{"type":"rect","color":"#ffffff","cornerRadius":4},"encoding":{"x2":{"field":"t2"},"y":{"field":"p","type":"quantitative","scale":{"domain":[44742,103802],"nice":false,"zero":false},"axis":null},"y2":{"field":"p2"}}},
{"data":{"values":[{"t":"2026-04-28T14:24Z","t2":"2026-05-08T17:00Z","p":64458,"p2":62473}]},"mark":{"type":"rect","color":"#3e4250","cornerRadius":2},"encoding":{"x2":{"field":"t2"},"y":{"field":"p","type":"quantitative","scale":{"domain":[44742,103802],"nice":false,"zero":false},"axis":null},"y2":{"field":"p2"}}},
{"data":{"values":[{"t":"2026-04-30T12:00Z","p":97168,"s":"USDT"}]},"mark":{"type":"text","align":"left","baseline":"middle","color":"#222428","fontSize":11.5},"encoding":{"text":{"field":"s"},"y":{"field":"p","type":"quantitative","scale":{"domain":[44742,103802],"nice":false,"zero":false},"axis":null}}},
{"data":{"values":[{"t":"2026-04-30T00:00Z","p":63932,"s":"63,927.1"}]},"mark":{"type":"text","align":"left","baseline":"middle","color":"#ffffff","fontSize":14,"fontWeight":"bold"},"encoding":{"text":{"field":"s"},"y":{"field":"p","type":"quantitative","scale":{"domain":[44742,103802],"nice":false,"zero":false},"axis":null}}},
{"data":{"values":[{"t":"2026-04-30T00:00Z","p":62998,"s":"01:04:53"}]},"mark":{"type":"text","align":"left","baseline":"middle","color":"#d8d9de","fontSize":14},"encoding":{"text":{"field":"s"},"y":{"field":"p","type":"quantitative","scale":{"domain":[44742,103802],"nice":false,"zero":false},"axis":null}}},
{"data":{"values":[{"t":"2025-09-12T14:24Z","p":97198,"s":"Bitcoin / Tether · 12h · KuCoin"}]},"mark":{"type":"text","align":"left","baseline":"middle","color":"#6a6d77","fontSize":12},"encoding":{"text":{"field":"s"},"y":{"field":"p","type":"quantitative","scale":{"domain":[44742,103802],"nice":false,"zero":false},"axis":null}}},
{"data":{"values":[{"t":"2025-10-07T14:24Z","p":97198,"s":"O65,872.3"},{"t":"2025-10-16T14:24Z","p":97198,"s":"H66,017.7"},{"t":"2025-10-25T10:00Z","p":97198,"s":"L63,031.1"},{"t":"2025-11-03T07:00Z","p":97198,"s":"C63,927.1"},{"t":"2025-11-11T23:00Z","p":97198,"s":"−1,949.3 (−2.96%)"}]},"mark":{"type":"text","align":"left","baseline":"middle","color":"#8a3440","fontSize":11.5},"encoding":{"text":{"field":"s"},"y":{"field":"p","type":"quantitative","scale":{"domain":[44742,103802],"nice":false,"zero":false},"axis":null}}},
{"data":{"values":[{"t":"2025-09-11T12:00Z","p":104430,"s":"CryptoMichNL created with TradingView.com, Feb 28, 2026 10:55 UTC"}]},"mark":{"type":"text","align":"left","baseline":"middle","color":"#f0f0f0","fontSize":11.5,"fontWeight":500},"encoding":{"text":{"field":"s"},"y":{"field":"p","type":"quantitative","scale":{"domain":[44742,103802],"nice":false,"zero":false},"axis":null}}},
{"data":{"values":[{"t":"2025-09-17T00:00Z","p":42981,"s":"TradingView"}]},"mark":{"type":"text","align":"left","baseline":"middle","color":"#f2f2f2","fontSize":19.2,"font":"Inter","fontWeight":600},"encoding":{"text":{"field":"s"},"y":{"field":"p","type":"quantitative","scale":{"domain":[44742,103802],"nice":false,"zero":false},"axis":null}}},
{"data":{"values":[{"t":"2025-09-13T23:00Z","p":43039}]},"mark":{"type":"point","filled":true,"color":"#f2f2f2","opacity":1,"size":841,"shape":"M-1,-0.45 L-0.2,-0.45 L-0.2,0.5 L-0.55,0.5 L-0.55,-0.05 L-1,-0.05 Z M0.28,-0.28 A0.17,0.17 0 1 1 -0.06,-0.28 A0.17,0.17 0 1 1 0.28,-0.28 Z M0.55,-0.45 L1,-0.45 L0.55,0.5 L0.05,0.5 Z"},"encoding":{"y":{"field":"p","type":"quantitative","scale":{"domain":[44742,103802],"nice":false,"zero":false},"axis":null}}},
{"data":{"values":[{"t":"2026-02-28T00:00Z","p":47200}]},"mark":{"type":"point","filled":true,"fill":"#f4ecf6","stroke":"#8c5aa6","strokeWidth":1.5,"opacity":1,"size":380,"shape":"circle"},"encoding":{"y":{"field":"p","type":"quantitative","scale":{"domain":[44742,103802],"nice":false,"zero":false},"axis":null}}},
{"data":{"values":[{"t":"2026-02-28T00:00Z","p":47200}]},"mark":{"type":"point","filled":true,"color":"#6f3a96","opacity":1,"size":130,"shape":"M0.3,-1 L-0.5,0.2 L-0.05,0.2 L-0.3,1 L0.5,-0.2 L0.05,-0.2 Z"},"encoding":{"y":{"field":"p","type":"quantitative","scale":{"domain":[44742,103802],"nice":false,"zero":false},"axis":null}}},
{"data":{"values":[{"t":"2026-03-01T00:00Z","p":47591}]},"mark":{"type":"point","filled":true,"color":"#c8414f","opacity":1,"size":35,"shape":"circle"},"encoding":{"y":{"field":"p","type":"quantitative","scale":{"domain":[44742,103802],"nice":false,"zero":false},"axis":null}}}
]}
],
"resolve":{"scale":{"y":"independent"}}}
